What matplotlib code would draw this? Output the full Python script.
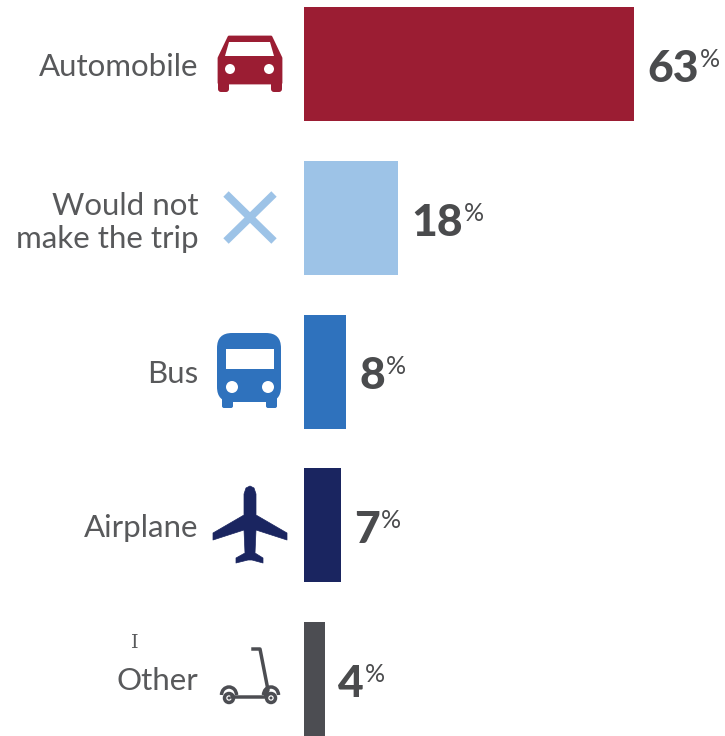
import matplotlib
matplotlib.use('Agg')
import matplotlib.pyplot as plt
from matplotlib.patches import Polygon, Circle, FancyBboxPatch, Rectangle, Arc

W, H = 725, 736

categories = ['Automobile', 'Would not\nmake the trip', 'Bus', 'Airplane', 'Other']
values = [63, 18, 8, 7, 4]
colors = ['#9b1d33', '#9dc3e7', '#2f72bd', '#1a2560', '#4c4d52']

TEXT = '#58595b'
VALUE = '#4a4b4d'
plt.rcParams['font.family'] = ['Lato', 'DejaVu Sans']

fig = plt.figure(figsize=(W / 100, H / 100), dpi=100)

# chart axes, x scale from the 63% bar (304 -> 634 px)
left = 304
ax = fig.add_axes([left / W, 0, (W - left) / W, 1])
ax.barh(range(len(values)), values, height=114 / 153.75, color=colors)
ax.set_xlim(0, (W - left) / (330 / 63))
ax.set_ylim(4 + 57 / 153.75, -57 / 153.75 - 7 / 153.75)
ax.set_yticks(range(len(categories)))
ax.set_yticklabels(categories, fontsize=22.5, color=TEXT, ha='right', linespacing=1.2)
ax.tick_params(axis='y', length=0, pad=76)
ax.xaxis.set_visible(False)
for s in ax.spines.values():
    s.set_visible(False)
ax.patch.set_visible(False)

fig.canvas.draw()
rend = fig.canvas.get_renderer()
for i, v in enumerate(values):
    t = ax.annotate(str(v), (v, i), xytext=(9.5, -3.5), textcoords='offset points',
                    va='center', ha='left', fontsize=32, fontweight='black', color=VALUE)
    bb = t.get_window_extent(rend)
    fig.text((bb.x1 + 1) / W, (bb.y1 + 1) / H, '%', fontsize=18, color=VALUE, va='top', ha='left')

# icons, drawn in pixel coordinates of the image
ic = fig.add_axes([0, 0, 1, 1])
ic.set_xlim(0, W)
ic.set_ylim(H, 0)
ic.axis('off')
ic.patch.set_visible(False)


def poly(pts, c, **kw):
    ic.add_patch(Polygon(pts, closed=True, fc=c, ec=c, lw=kw.get('lw', 0.5), joinstyle='round'))


def rrect(x0, y0, x1, y1, r, c):
    ic.add_patch(FancyBboxPatch((x0 + r, y0 + r), x1 - x0 - 2 * r, y1 - y0 - 2 * r,
                                boxstyle='round,pad=%s,rounding_size=%s' % (r, r), fc=c, ec='none'))


# car
c = colors[0]
poly([(229, 37), (271, 37), (281, 58), (281, 83), (219, 83), (219, 58)], c, lw=2)
rrect(218, 78, 229, 92, 3, c)
rrect(271, 78, 282, 92, 3, c)
poly([(229, 42), (270, 42), (274, 56), (225, 56)], 'white', lw=0)
for x in (230, 269):
    ic.add_patch(Circle((x, 69), 5, fc='white', ec='none'))

# cross
c = colors[1]
ic.plot([226, 274], [194, 241], color=c, lw=5.5, solid_capstyle='butt')
ic.plot([274, 226], [194, 241], color=c, lw=5.5, solid_capstyle='butt')

# bus
c = colors[2]
rrect(217, 333, 281, 402, 15, c)
rrect(222, 395, 233, 408, 2, c)
rrect(266, 395, 277, 408, 2, c)
ic.add_patch(Rectangle((226, 349), 48, 20, fc='white', ec='none'))
for x in (232, 268):
    ic.add_patch(Circle((x, 387), 6, fc='white', ec='none'))

# plane
c = colors[3]
poly([(250, 486), (254, 488), (256, 494), (256, 515), (287, 533), (287, 540), (256, 530),
      (255, 553), (263, 558), (263, 563), (252, 560), (248, 560), (236, 563), (236, 558),
      (245, 553), (244, 530), (213, 540), (213, 533), (244, 515), (244, 494), (246, 488)], c)

# scooter
c = colors[4]
ic.plot([253, 260, 268, 265, 232], [649, 649, 690, 697, 697], color=c, lw=2.5, solid_joinstyle='round')
for x in (229, 271):
    ic.add_patch(Circle((x, 698), 4.5, fc='white', ec=c, lw=2.5))
    ic.add_patch(Circle((x, 698), 1.5, fc=c, ec='none'))
ic.add_patch(Arc((229, 695), 15, 16, theta1=180, theta2=360, color=c, lw=2.5))
ic.add_patch(Arc((271, 695), 15, 16, theta1=180, theta2=360, color=c, lw=2.5))

# stray text cursor in the source image
ic.text(135, 643, 'I', fontsize=14, family='DejaVu Serif', color=TEXT, ha='center', va='center')

fig.savefig('out.png', dpi=100, facecolor='white')
